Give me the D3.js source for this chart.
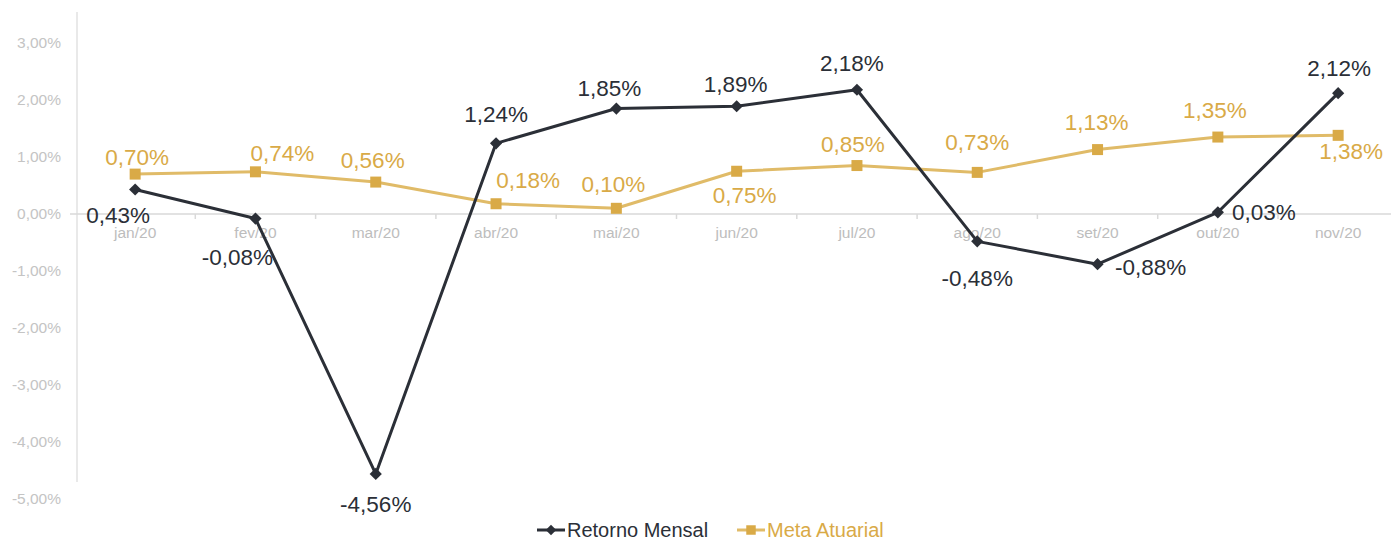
<!DOCTYPE html>
<html>
<head>
<meta charset="utf-8">
<script src="https://cdn.jsdelivr.net/npm/d3@7"></script>
<style>
  body { margin: 0; background: #fff; font-family: "Liberation Sans", Arial, sans-serif; }
  #chart { width: 1391px; height: 539px; }
</style>
</head>
<body>
<div id="chart"></div>
<script>
const months = ["jan/20", "fev/20", "mar/20", "abr/20", "mai/20", "jun/20", "jul/20", "ago/20", "set/20", "out/20", "nov/20"];
const retornoMensal = [0.43, -0.08, -4.56, 1.24, 1.85, 1.89, 2.18, -0.48, -0.88, 0.03, 2.12];
const metaAtuarial = [0.70, 0.74, 0.56, 0.18, 0.10, 0.75, 0.85, 0.73, 1.13, 1.35, 1.38];
const yTicks = [3, 2, 1, 0, -1, -2, -3, -4, -5];

// label offsets (label centre relative to point)
const retornoLabelPos = [[-17, 26], [-18, 39], [0, 30], [0, -29], [-7, -20], [-1, -22], [-5, -27], [0, 37], [53, 3], [46, 0], [1, -25]];
const metaLabelPos = [[2, -17], [27, -19], [-3, -22], [32, -24], [-3, -24], [8, 24], [-4, -21], [0, -30], [-1, -27], [-3, -27], [13, 16]];

const dark = "#2b2f37";
const gold = "#d9aa47";
const goldLine = "#e0bb68";

const W = 1391, H = 539;
const svg = d3.select("#chart").append("svg")
    .attr("width", W)
    .attr("height", H);

const x = d3.scaleBand()
    .domain(months)
    .range([75, 75 + 120.3 * months.length]);

const y = d3.scaleLinear()
    .domain([-5, 3])
    .range([499, 43]);

const fmt = v => d3.format(".2f")(v).replace(".", ",").replace("−", "-") + "%";
const cx = d => x(d) + x.bandwidth() / 2;

// y axis labels
svg.append("g")
    .selectAll("text")
    .data(yTicks)
    .enter()
    .append("text")
    .attr("x", 61)
    .attr("y", d => y(d))
    .attr("dy", "0.35em")
    .attr("text-anchor", "end")
    .attr("fill", "#c4c4c4")
    .attr("font-size", 15.5)
    .text(d => fmt(d));

// y axis line
svg.append("line")
    .attr("x1", 77).attr("x2", 77)
    .attr("y1", 12).attr("y2", 482)
    .attr("stroke", "#e2e2e2")
    .attr("stroke-width", 1.5);

// zero line with ticks
const axisG = svg.append("g");
axisG.append("line")
    .attr("x1", 70).attr("x2", W)
    .attr("y1", y(0)).attr("y2", y(0))
    .attr("stroke", "#d9d9d9")
    .attr("stroke-width", 1.5);
axisG.selectAll(".xtick")
    .data(months.slice(1))
    .enter()
    .append("line")
    .attr("x1", d => x(d)).attr("x2", d => x(d))
    .attr("y1", y(0)).attr("y2", y(0) + 5)
    .attr("stroke", "#d9d9d9")
    .attr("stroke-width", 1.5);

axisG.selectAll(".xlabel")
    .data(months)
    .enter()
    .append("text")
    .attr("x", d => cx(d))
    .attr("y", y(0) + 19)
    .attr("dy", "0.35em")
    .attr("text-anchor", "middle")
    .attr("fill", "#bdbdbd")
    .attr("font-size", 15.5)
    .text(d => d);

function drawSeries(values, lineColor, markColor, shape, labelColor, labelPos) {
    const pts = values.map((v, i) => ({ m: months[i], v: v, i: i }));
    const line = d3.line()
        .x(d => cx(d.m))
        .y(d => y(d.v));
    svg.append("path")
        .datum(pts)
        .attr("d", line)
        .attr("fill", "none")
        .attr("stroke", lineColor)
        .attr("stroke-width", 3)
        .attr("stroke-linejoin", "round");

    const sym = d3.symbol().type(shape).size(shape === d3.symbolSquare ? 121 : 95);
    svg.selectAll(null)
        .data(pts)
        .enter()
        .append("path")
        .attr("d", sym)
        .attr("transform", d => `translate(${cx(d.m)}, ${y(d.v)})`)
        .attr("fill", markColor);

    svg.selectAll(null)
        .data(pts)
        .enter()
        .append("text")
        .attr("x", d => cx(d.m) + labelPos[d.i][0])
        .attr("y", d => y(d.v) + labelPos[d.i][1])
        .attr("dy", "0.35em")
        .attr("text-anchor", "middle")
        .attr("fill", labelColor)
        .attr("font-size", 22.5)
        .text(d => fmt(d.v));
}

drawSeries(metaAtuarial, goldLine, gold, d3.symbolSquare, gold, metaLabelPos);
drawSeries(retornoMensal, dark, dark, d3.symbolDiamond2, dark, retornoLabelPos);

// legend
const legend = [
    { name: "Retorno Mensal", color: dark, mark: dark, shape: d3.symbolDiamond2, x: 537 },
    { name: "Meta Atuarial", color: goldLine, mark: gold, shape: d3.symbolSquare, x: 737 }
];
const lg = svg.append("g").attr("transform", "translate(0, 530)");
legend.forEach(l => {
    lg.append("line")
        .attr("x1", l.x).attr("x2", l.x + 28)
        .attr("y1", 0).attr("y2", 0)
        .attr("stroke", l.color)
        .attr("stroke-width", 3);
    lg.append("path")
        .attr("d", d3.symbol().type(l.shape).size(l.shape === d3.symbolSquare ? 90 : 70)())
        .attr("transform", `translate(${l.x + 14}, 0)`)
        .attr("fill", l.mark);
    lg.append("text")
        .attr("x", l.x + 30)
        .attr("y", 0)
        .attr("dy", "0.35em")
        .attr("fill", l.shape === d3.symbolSquare ? gold : dark)
        .attr("font-size", 20)
        .text(l.name);
});
</script>
</body>
</html>
